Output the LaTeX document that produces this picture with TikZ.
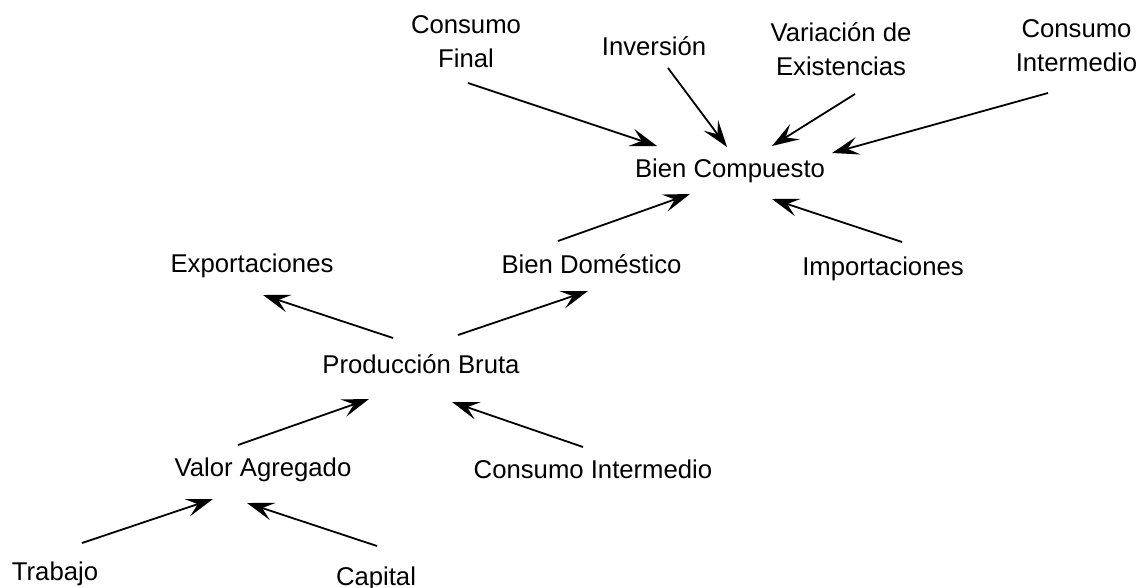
\documentclass[tikz,border=0pt]{standalone}
\usepackage{fontspec}
\setmainfont{Liberation Sans}
\usepackage{tikz}
\usetikzlibrary{arrows.meta}
\tikzstyle{item} = [font=\fontsize{25.7}{34}\selectfont, align=center, inner sep=0pt, anchor=base]
\tikzstyle{arrow} = [line width=1.8pt,-{Stealth[length=27pt, width=18pt, inset=11pt]}]

\begin{document}
\begin{tikzpicture}[x=1pt, y=1pt]
    \useasboundingbox (0,0) rectangle (1139,-587);
    \node (cf) [item] at (466,-67) {Consumo\\Final};
    \node (inv) [item] at (654,-55) {Inversión};
    \node (vde) [item] at (841,-75) {Variación de\\Existencias};
    \node (cit) [item] at (1076.5,-71) {Consumo\\Intermedio};
    \node (bc) [item] at (730,-177) {Bien Compuesto};
    \node (bd) [item] at (591.5,-273) {Bien Doméstico};
    \node (imp) [item] at (883,-275) {Importaciones};
    \node (exp) [item] at (252,-272) {Exportaciones};
    \node (pb) [item] at (421,-373) {Producción Bruta};
    \node (va) [item] at (263,-476) {Valor Agregado};
    \node (cim) [item] at (593,-478) {Consumo Intermedio};
    \node (tra) [item] at (55,-580) {Trabajo};
    \node (cap) [item] at (376,-585) {Capital};
    \draw [arrow] ([shift={(2,-16)}]cf.base) -- ([shift={(-73,31)}]bc.base);
    \draw [arrow] ([shift={(14,-13)}]inv.base) -- ([shift={(-3,30)}]bc.base);
    \draw [arrow] ([shift={(14,-19)}]vde.base) -- ([shift={(42,31)}]bc.base);
    \draw [arrow] ([shift={(-28.5,-22)}]cit.base) -- ([shift={(102,24)}]bc.base);
    \draw [arrow] ([shift={(19,33)}]imp.base) -- ([shift={(42,-22)}]bc.base);
    \draw [arrow] ([shift={(-33.5,32)}]bd.base) -- ([shift={(-40,-17)}]bc.base);
    \draw [arrow] ([shift={(-28,35)}]pb.base) -- ([shift={(11,-23)}]exp.base);
    \draw [arrow] ([shift={(37,38)}]pb.base) -- ([shift={(-3.5,-18)}]bd.base);
    \draw [arrow] ([shift={(-25,31)}]va.base) -- ([shift={(-52,-26)}]pb.base);
    \draw [arrow] ([shift={(-10,31)}]cim.base) -- ([shift={(31,-29)}]pb.base);
    \draw [arrow] ([shift={(27,37)}]tra.base) -- ([shift={(-50,-23)}]va.base);
    \draw [arrow] ([shift={(1,39)}]cap.base) -- ([shift={(-16,-27)}]va.base);
\end{tikzpicture}
\end{document}
